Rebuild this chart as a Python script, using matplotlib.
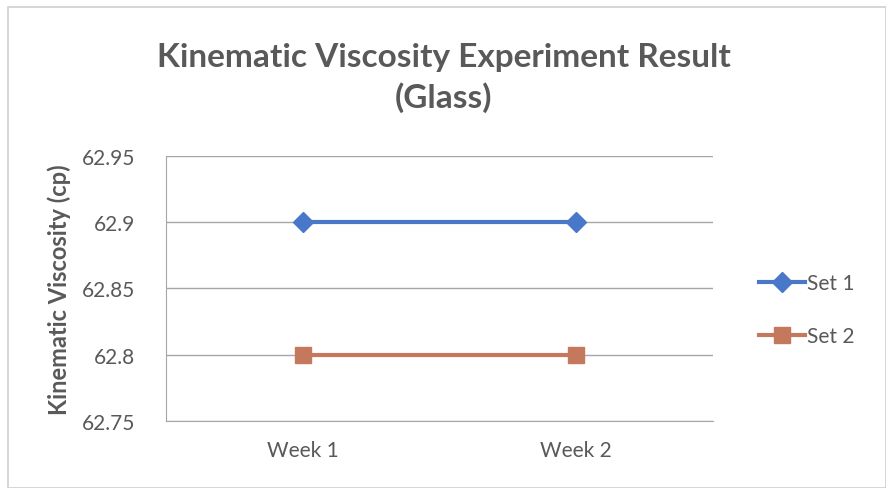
import matplotlib
matplotlib.use('Agg')
import matplotlib.pyplot as plt
from matplotlib.patches import Rectangle

weeks = ['Week 1', 'Week 2']
set1 = [62.9, 62.9]
set2 = [62.8, 62.8]
yticks = [62.75, 62.8, 62.85, 62.9, 62.95]
ytick_labels = ['62.75', '62.8', '62.85', '62.9', '62.95']

plt.rcParams['font.family'] = ['Lato', 'DejaVu Sans']
txt = '#595959'

fig = plt.figure(figsize=(8.87, 4.89), dpi=100)
fig.patches.append(Rectangle((0.009, 0.0), 0.99, 0.984, transform=fig.transFigure,
                             fill=False, edgecolor='#d0d0d0', linewidth=1.2))
ax = fig.add_axes([0.1871, 0.137, 0.6167, 0.542])

x = list(range(len(weeks)))
ax.plot(x, set1, color='#4A78C8', linewidth=3, marker='D', markersize=10, label='Set 1')
ax.plot(x, set2, color='#C4785C', linewidth=3, marker='s', markersize=12, label='Set 2')

ax.set_xlim(-0.5, 1.5)
ax.set_ylim(62.75, 62.95)
ax.set_xticks(x)
ax.set_xticklabels(weeks)
ax.set_yticks(yticks)
ax.set_yticklabels(ytick_labels)
ax.tick_params(length=0, labelsize=15, colors=txt)
ax.tick_params(axis='y', pad=22)
ax.tick_params(axis='x', pad=14)
ax.grid(axis='y', color='#a6a6a6', linewidth=1)
ax.set_axisbelow(True)
for s in ax.spines.values():
    s.set_color('#a6a6a6')
ax.spines['right'].set_visible(False)
ax.spines['top'].set_visible(False)

ax.set_ylabel('Kinematic Viscosity (cp)', fontsize=17, fontweight='bold', color=txt, labelpad=8)
fig.text(0.5, 0.882, 'Kinematic Viscosity Experiment Result', ha='center', va='center',
         fontsize=24, fontweight='bold', color=txt)
fig.text(0.5, 0.80, '(Glass)', ha='center', va='center', fontsize=24, fontweight='bold', color=txt)

ax.legend(loc='center left', bbox_to_anchor=(1.05, 0.42), frameon=False, fontsize=15,
          labelcolor=txt, handlelength=2.2, handletextpad=0.1, labelspacing=1.6)

fig.savefig('out.png', dpi=100)
